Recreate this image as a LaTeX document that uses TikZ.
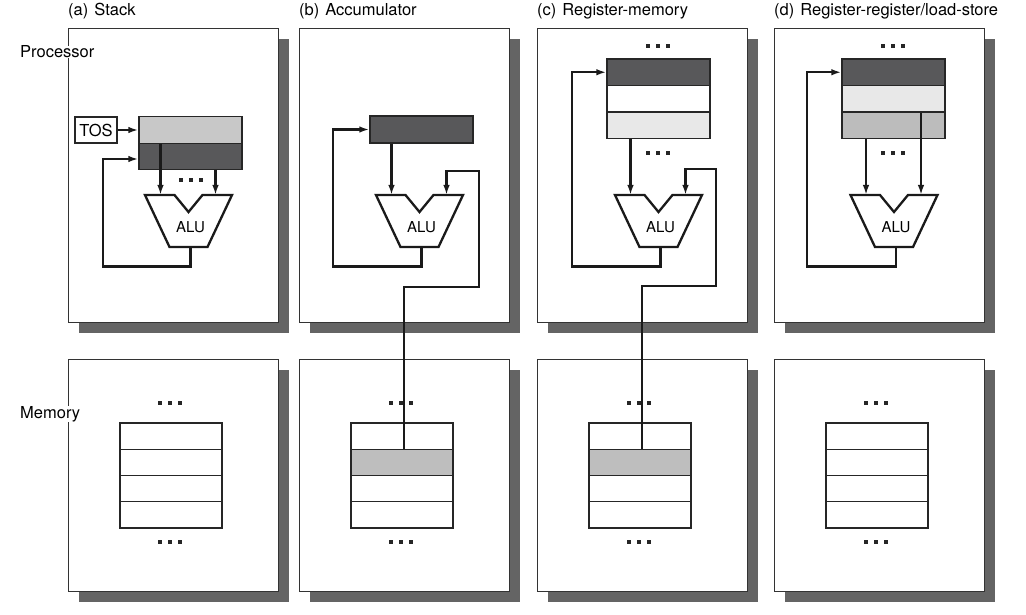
\documentclass[tikz,border=0pt]{standalone}
\usepackage{fontspec}
\setmainfont{TeX Gyre Heros}
\usetikzlibrary{arrows.meta}
\definecolor{boxshade}{HTML}{646464}
\definecolor{regdark}{HTML}{58585A}
\definecolor{reglight}{HTML}{C8C8C8}
\definecolor{regpale}{HTML}{E8E8E8}
\definecolor{regmid}{HTML}{BCBCBC}
\definecolor{memgray}{HTML}{BEBEBE}
\definecolor{wirecol}{HTML}{1A1A1A}
% three small squares
\newcommand{\regdots}[2]{\foreach \dx in {-10,0,10}{\fill[black!85] ({#1+\dx-1.7},{#2-1.7}) rectangle ++(3.4,3.4);}}
% ALU with a notch, label and ports
\newcommand{\alu}[2]{%
  \draw[alubox] ({#2-43.5},195) -- ({#2-14},195) -- ({#2},212) -- ({#2+14},195)
    -- ({#2+43.5},195) -- ({#2+19},247) -- ({#2-19},247) -- cycle;
  \node[alulabel] (#1) at ({#2+2},227) {ALU};
  \coordinate (#1-l) at ({#2-28},195);
  \coordinate (#1-r) at ({#2+27},195);
  \coordinate (#1-o) at ({#2+2},247);
}
\begin{document}
\begin{tikzpicture}[x=1pt,y=-1pt,>={Latex[length=10pt,width=6.5pt]}]
\tikzstyle{every node}=[font=\fontsize{16.5}{19}\selectfont];
\tikzstyle{panel}=[draw=black!80,line width=1.2pt,fill=white,minimum width=210pt,inner sep=0pt,anchor=north west];
\tikzstyle{boxshadow}=[fill=boxshade];
\tikzstyle{sidelabel}=[fill=white,inner sep=0pt,anchor=base west];
\tikzstyle{title}=[inner sep=0pt,anchor=base west];
\tikzstyle{reg}=[draw=black!85,line width=1.3pt,minimum width=103pt,minimum height=26.5pt,inner sep=0pt];
\tikzstyle{memcell}=[draw=black!85,line width=1.2pt,fill=white,minimum width=102pt,minimum height=26.25pt,inner sep=0pt];
\tikzstyle{alubox}=[draw=wirecol,line width=2.3pt,fill=white,line join=miter];
\tikzstyle{alulabel}=[font=\fontsize{15}{18}\selectfont,inner sep=0pt];
\tikzstyle{wire}=[draw=wirecol,line width=2.3pt];
\useasboundingbox (0,0) rectangle (1026,615);
% boxes with shadows
\foreach \x/\n in {68/a,299/b,537/c,774/d}{
    \fill[boxshadow] ({\x+11},39) rectangle ++(210,294);
    \node[panel,minimum height=294pt] (proc\n) at (\x,28) {};
    \fill[boxshadow] ({\x+11},370) rectangle ++(210,232);
    \node[panel,minimum height=232pt] (mem\n) at (\x,359) {};
}
% titles
    \node[title] (ta) at (68,16)  {(a)\hspace{6pt}Stack};
    \node[title] (tb) at (299,16) {(b)\hspace{6pt}Accumulator};
    \node[title] (tc) at (537,16) {(c)\hspace{6pt}Register-memory};
    \node[title] (td) at (774,16) {(d)\hspace{6pt}Register-register/load-store};
    \node[sidelabel] (lproc) at (20,58)  {Processor};
    \node[sidelabel] (lmem)  at (20,418) {Memory};
% memory tables
\foreach \n/\c in {a/171,b/402,c/640,d/877}{
    \foreach \i in {1,...,4}
        \node[memcell] (m\n\i) at (\c,{409.875+26.25*\i}) {};
    \regdots{\c-1}{403}
    \regdots{\c-1}{542}
}
    \node[memcell,fill=memgray] (mb2) at (402,462.375) {};
    \node[memcell,fill=memgray] (mc2) at (640,462.375) {};
% (a) stack
%   nodes
    \node[draw=black!85,line width=1.3pt,minimum width=42pt,minimum height=26pt,inner sep=0pt] (tos) at (96,130) {TOS};
    \node[reg,fill=reglight] (as1) at (190.5,130) {};
    \node[reg,fill=regdark]  (as2) at (190.5,156.5) {};
    \regdots{191}{180}
    \alu{alua}{188.5}
%   edges
    \draw[wire,->] (tos) -- (as1);
    \draw[wire,->] (alua-l |- as1.south) -- (alua-l);
    \draw[wire,->] (alua-r |- as2.south) -- (alua-r);
    \draw[wire,->] (alua-o) |- (103,266.5) |- ([yshift=-2.5pt]as2.west);
% (b) accumulator
%   nodes
    \node[reg,fill=regdark,minimum height=27pt] (acc) at (421.5,129.5) {};
    \alu{alub}{419.5}
%   edges
    \draw[wire,->] (alub-l |- acc.south) -- (alub-l);
    \draw[wire,->] (alub-o) |- (333,266.5) |- (acc.west);
    \draw[wire,->] ([xshift=2pt]mb2.north) |- (479,287) |- ([yshift=24pt]alub-r) -- (alub-r);
% (c) register-memory
%   nodes
    \node[reg,fill=regdark] (cs1) at (658.5,72.25) {};
    \node[reg,fill=white]   (cs2) at (658.5,98.75) {};
    \node[reg,fill=regpale] (cs3) at (658.5,125.25) {};
    \regdots{658}{46}
    \regdots{658}{153}
    \alu{aluc}{658.5}
%   edges
    \draw[wire,->] (aluc-l |- cs3.south) -- (aluc-l);
    \draw[wire,->] (aluc-o) |- (572,266.5) |- (cs1.west);
    \draw[wire,->] ([xshift=2pt]mc2.north) |- (716,286) |- ([yshift=26pt]aluc-r) -- (aluc-r);
% (d) register-register
%   nodes
    \node[reg,fill=regdark] (ds1) at (893.5,72.25) {};
    \node[reg,fill=regpale] (ds2) at (893.5,98.75) {};
    \node[reg,fill=regmid]  (ds3) at (893.5,125.25) {};
    \regdots{893}{46}
    \regdots{893}{153}
    \alu{alud}{894}
%   edges
    \draw[wire,->] (alud-l |- ds3.south) -- (alud-l);
    \draw[wire,->] (alud-r |- ds2.south) -- (alud-r);
    \draw[wire,->] (alud-o) |- (807,266.5) |- (ds1.west);
\end{tikzpicture}
\end{document}
